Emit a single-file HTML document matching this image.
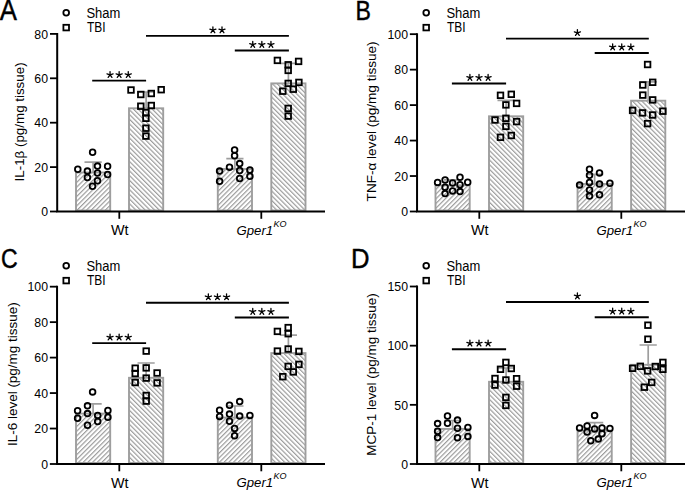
<!DOCTYPE html>
<html><head><meta charset="utf-8"><style>
html,body{margin:0;padding:0;background:#fff;}
svg{display:block;}
text{font-family:"Liberation Sans", sans-serif;fill:#000;}
</style></head><body>
<svg width="685" height="491" viewBox="0 0 685 491">
<defs>
<pattern id="hs" patternUnits="userSpaceOnUse" width="3.32" height="3.32" patternTransform="rotate(45)"><rect width="3.32" height="3.32" fill="#fff"/><line x1="0.6" y1="0" x2="0.6" y2="3.32" stroke="#999999" stroke-width="1.15"/></pattern>
<pattern id="ht" patternUnits="userSpaceOnUse" width="3.32" height="3.32" patternTransform="rotate(-45)"><rect width="3.32" height="3.32" fill="#fff"/><line x1="0.6" y1="0" x2="0.6" y2="3.32" stroke="#999999" stroke-width="1.15"/></pattern>
</defs>
<rect width="685" height="491" fill="#fff"/>
<path d="M50 211.5H57.2" stroke="#000" stroke-width="1.8"/><text x="48" y="216.2" font-size="13.1" text-anchor="end" textLength="6.84" lengthAdjust="spacingAndGlyphs">0</text><path d="M50 167.1H57.2" stroke="#000" stroke-width="1.8"/><text x="48" y="171.8" font-size="13.1" text-anchor="end" textLength="13.68" lengthAdjust="spacingAndGlyphs">20</text><path d="M50 122.7H57.2" stroke="#000" stroke-width="1.8"/><text x="48" y="127.4" font-size="13.1" text-anchor="end" textLength="13.68" lengthAdjust="spacingAndGlyphs">40</text><path d="M50 78.3H57.2" stroke="#000" stroke-width="1.8"/><text x="48" y="83" font-size="13.1" text-anchor="end" textLength="13.68" lengthAdjust="spacingAndGlyphs">60</text><path d="M50 33.9H57.2" stroke="#000" stroke-width="1.8"/><text x="48" y="38.6" font-size="13.1" text-anchor="end" textLength="13.68" lengthAdjust="spacingAndGlyphs">80</text><path d="M119.3 211.5V218.8" stroke="#000" stroke-width="1.8"/><path d="M261.3 211.5V218.8" stroke="#000" stroke-width="1.8"/><text x="119.7" y="235.2" font-size="14.2" text-anchor="middle" textLength="17.6" lengthAdjust="spacingAndGlyphs">Wt</text><text x="236.5" y="234.9" font-size="13.7" font-style="italic" textLength="36.6" lengthAdjust="spacingAndGlyphs">Gper1</text><text x="273.6" y="226.7" font-size="9.6" font-style="italic" textLength="13" lengthAdjust="spacingAndGlyphs">KO</text><rect x="76" y="172.5" width="34.2" height="38" fill="url(#hs)" stroke="#9e9e9e" stroke-width="1.9"/><path d="M93.1 172.5V162.2M84.5 162.2H101.7" stroke="#9e9e9e" stroke-width="1.7" fill="none"/><rect x="129" y="108.3" width="34.2" height="102.2" fill="url(#ht)" stroke="#9e9e9e" stroke-width="1.9"/><path d="M146.1 108.3V92M137.5 92H154.7" stroke="#9e9e9e" stroke-width="1.7" fill="none"/><rect x="217.8" y="169" width="34.2" height="41.5" fill="url(#hs)" stroke="#9e9e9e" stroke-width="1.9"/><path d="M234.9 169V158.6M226.3 158.6H243.5" stroke="#9e9e9e" stroke-width="1.7" fill="none"/><rect x="271.3" y="83.4" width="34.2" height="127.1" fill="url(#ht)" stroke="#9e9e9e" stroke-width="1.9"/><path d="M288.4 83.4V63.4M279.8 63.4H297" stroke="#9e9e9e" stroke-width="1.7" fill="none"/><path d="M57.2 32.9V211.5H325" stroke="#000" stroke-width="2" fill="none"/><circle cx="92.6" cy="152.3" r="2.85" fill="none" stroke="#000" stroke-width="1.8"/><circle cx="77.8" cy="169.3" r="2.85" fill="none" stroke="#000" stroke-width="1.8"/><circle cx="87.4" cy="171.1" r="2.85" fill="none" stroke="#000" stroke-width="1.8"/><circle cx="87.4" cy="177.5" r="2.85" fill="none" stroke="#000" stroke-width="1.8"/><circle cx="97.5" cy="166.1" r="2.85" fill="none" stroke="#000" stroke-width="1.8"/><circle cx="97.5" cy="173" r="2.85" fill="none" stroke="#000" stroke-width="1.8"/><circle cx="97.5" cy="180.7" r="2.85" fill="none" stroke="#000" stroke-width="1.8"/><circle cx="107.6" cy="166.3" r="2.85" fill="none" stroke="#000" stroke-width="1.8"/><circle cx="107.6" cy="174.5" r="2.85" fill="none" stroke="#000" stroke-width="1.8"/><circle cx="92.5" cy="186.2" r="2.85" fill="none" stroke="#000" stroke-width="1.8"/><rect x="128.2" y="87.2" width="5.6" height="5.6" fill="none" stroke="#000" stroke-width="1.8"/><rect x="138" y="91.7" width="5.6" height="5.6" fill="none" stroke="#000" stroke-width="1.8"/><rect x="148.5" y="90.7" width="5.6" height="5.6" fill="none" stroke="#000" stroke-width="1.8"/><rect x="158.4" y="86.9" width="5.6" height="5.6" fill="none" stroke="#000" stroke-width="1.8"/><rect x="138" y="103.4" width="5.6" height="5.6" fill="none" stroke="#000" stroke-width="1.8"/><rect x="148.5" y="102.7" width="5.6" height="5.6" fill="none" stroke="#000" stroke-width="1.8"/><rect x="143.1" y="109.8" width="5.6" height="5.6" fill="none" stroke="#000" stroke-width="1.8"/><rect x="143.1" y="115.5" width="5.6" height="5.6" fill="none" stroke="#000" stroke-width="1.8"/><rect x="143.1" y="125.4" width="5.6" height="5.6" fill="none" stroke="#000" stroke-width="1.8"/><rect x="143.1" y="133.3" width="5.6" height="5.6" fill="none" stroke="#000" stroke-width="1.8"/><circle cx="234.6" cy="149.9" r="2.85" fill="none" stroke="#000" stroke-width="1.8"/><circle cx="234.6" cy="155.8" r="2.85" fill="none" stroke="#000" stroke-width="1.8"/><circle cx="229.5" cy="167.3" r="2.85" fill="none" stroke="#000" stroke-width="1.8"/><circle cx="239.7" cy="163.6" r="2.85" fill="none" stroke="#000" stroke-width="1.8"/><circle cx="239.7" cy="170.5" r="2.85" fill="none" stroke="#000" stroke-width="1.8"/><circle cx="239.7" cy="178.5" r="2.85" fill="none" stroke="#000" stroke-width="1.8"/><circle cx="219.6" cy="171.1" r="2.85" fill="none" stroke="#000" stroke-width="1.8"/><circle cx="219.6" cy="181.2" r="2.85" fill="none" stroke="#000" stroke-width="1.8"/><circle cx="249.9" cy="170" r="2.85" fill="none" stroke="#000" stroke-width="1.8"/><circle cx="249.9" cy="176.2" r="2.85" fill="none" stroke="#000" stroke-width="1.8"/><rect x="274.6" y="57.6" width="5.6" height="5.6" fill="none" stroke="#000" stroke-width="1.8"/><rect x="295.8" y="58.6" width="5.6" height="5.6" fill="none" stroke="#000" stroke-width="1.8"/><rect x="285.4" y="62" width="5.6" height="5.6" fill="none" stroke="#000" stroke-width="1.8"/><rect x="285.4" y="67.6" width="5.6" height="5.6" fill="none" stroke="#000" stroke-width="1.8"/><rect x="285.4" y="80.6" width="5.6" height="5.6" fill="none" stroke="#000" stroke-width="1.8"/><rect x="296.1" y="79.6" width="5.6" height="5.6" fill="none" stroke="#000" stroke-width="1.8"/><rect x="280" y="88.4" width="5.6" height="5.6" fill="none" stroke="#000" stroke-width="1.8"/><rect x="290.5" y="86.4" width="5.6" height="5.6" fill="none" stroke="#000" stroke-width="1.8"/><rect x="285.4" y="105.6" width="5.6" height="5.6" fill="none" stroke="#000" stroke-width="1.8"/><rect x="285.4" y="113.3" width="5.6" height="5.6" fill="none" stroke="#000" stroke-width="1.8"/><path d="M92.2 80.6H146.1" stroke="#000" stroke-width="1.9"/><path d="M110.05 74.8L110.05 71.6M110.05 74.8L113.09 73.81M110.05 74.8L111.93 77.39M110.05 74.8L108.17 77.39M110.05 74.8L107.01 73.81" stroke="#000" stroke-width="1.3" stroke-linecap="round" fill="none"/><path d="M119.15 74.8L119.15 71.6M119.15 74.8L122.19 73.81M119.15 74.8L121.03 77.39M119.15 74.8L117.27 77.39M119.15 74.8L116.11 73.81" stroke="#000" stroke-width="1.3" stroke-linecap="round" fill="none"/><path d="M128.25 74.8L128.25 71.6M128.25 74.8L131.29 73.81M128.25 74.8L130.13 77.39M128.25 74.8L126.37 77.39M128.25 74.8L125.21 73.81" stroke="#000" stroke-width="1.3" stroke-linecap="round" fill="none"/><path d="M234.8 50.5H288.9" stroke="#000" stroke-width="1.9"/><path d="M252.75 44.7L252.75 41.5M252.75 44.7L255.79 43.71M252.75 44.7L254.63 47.29M252.75 44.7L250.87 47.29M252.75 44.7L249.71 43.71" stroke="#000" stroke-width="1.3" stroke-linecap="round" fill="none"/><path d="M261.85 44.7L261.85 41.5M261.85 44.7L264.89 43.71M261.85 44.7L263.73 47.29M261.85 44.7L259.97 47.29M261.85 44.7L258.81 43.71" stroke="#000" stroke-width="1.3" stroke-linecap="round" fill="none"/><path d="M270.95 44.7L270.95 41.5M270.95 44.7L273.99 43.71M270.95 44.7L272.83 47.29M270.95 44.7L269.07 47.29M270.95 44.7L267.91 43.71" stroke="#000" stroke-width="1.3" stroke-linecap="round" fill="none"/><path d="M146 35.9H288.9" stroke="#000" stroke-width="1.9"/><path d="M212.9 30.1L212.9 26.9M212.9 30.1L215.94 29.11M212.9 30.1L214.78 32.69M212.9 30.1L211.02 32.69M212.9 30.1L209.86 29.11" stroke="#000" stroke-width="1.3" stroke-linecap="round" fill="none"/><path d="M222 30.1L222 26.9M222 30.1L225.04 29.11M222 30.1L223.88 32.69M222 30.1L220.12 32.69M222 30.1L218.96 29.11" stroke="#000" stroke-width="1.3" stroke-linecap="round" fill="none"/><circle cx="66.2" cy="12.8" r="2.85" fill="none" stroke="#000" stroke-width="1.8"/><rect x="63.4" y="24.8" width="5.6" height="5.6" fill="none" stroke="#000" stroke-width="1.8"/><text x="86.4" y="17.9" font-size="14" text-anchor="start" textLength="33.9" lengthAdjust="spacingAndGlyphs">Sham</text><text x="86.9" y="32.2" font-size="13.8" text-anchor="start" textLength="18.6" lengthAdjust="spacingAndGlyphs">TBI</text><text transform="translate(-0.3 19.6) scale(0.9 1)" font-size="28.6" stroke="#000" stroke-width="0.45">A</text><text transform="translate(23.8 121.9) rotate(-90)" x="0" y="0" font-size="13.3" text-anchor="middle" textLength="119" lengthAdjust="spacingAndGlyphs">IL-1β (pg/mg tissue)</text><path d="M409.85 211.5H417.05" stroke="#000" stroke-width="1.8"/><text x="408" y="216.2" font-size="13.1" text-anchor="end" textLength="6.84" lengthAdjust="spacingAndGlyphs">0</text><path d="M409.85 176.03H417.05" stroke="#000" stroke-width="1.8"/><text x="408" y="180.73" font-size="13.1" text-anchor="end" textLength="13.68" lengthAdjust="spacingAndGlyphs">20</text><path d="M409.85 140.57H417.05" stroke="#000" stroke-width="1.8"/><text x="408" y="145.27" font-size="13.1" text-anchor="end" textLength="13.68" lengthAdjust="spacingAndGlyphs">40</text><path d="M409.85 105.1H417.05" stroke="#000" stroke-width="1.8"/><text x="408" y="109.8" font-size="13.1" text-anchor="end" textLength="13.68" lengthAdjust="spacingAndGlyphs">60</text><path d="M409.85 69.64H417.05" stroke="#000" stroke-width="1.8"/><text x="408" y="74.34" font-size="13.1" text-anchor="end" textLength="13.68" lengthAdjust="spacingAndGlyphs">80</text><path d="M409.85 34.17H417.05" stroke="#000" stroke-width="1.8"/><text x="408" y="38.87" font-size="13.1" text-anchor="end" textLength="20.52" lengthAdjust="spacingAndGlyphs">100</text><path d="M479.3 211.5V218.8" stroke="#000" stroke-width="1.8"/><path d="M621.3 211.5V218.8" stroke="#000" stroke-width="1.8"/><text x="479.7" y="235.2" font-size="14.2" text-anchor="middle" textLength="17.6" lengthAdjust="spacingAndGlyphs">Wt</text><text x="596.5" y="234.9" font-size="13.7" font-style="italic" textLength="36.6" lengthAdjust="spacingAndGlyphs">Gper1</text><text x="633.6" y="226.7" font-size="9.6" font-style="italic" textLength="13" lengthAdjust="spacingAndGlyphs">KO</text><rect x="435.5" y="185.3" width="34.2" height="25.2" fill="url(#hs)" stroke="#9e9e9e" stroke-width="1.9"/><path d="M452.6 185.3V179.9M444 179.9H461.2" stroke="#9e9e9e" stroke-width="1.7" fill="none"/><rect x="489" y="116.3" width="34.2" height="94.2" fill="url(#ht)" stroke="#9e9e9e" stroke-width="1.9"/><path d="M506.1 116.3V100.4M497.5 100.4H514.7" stroke="#9e9e9e" stroke-width="1.7" fill="none"/><rect x="577.55" y="184" width="34.2" height="26.5" fill="url(#hs)" stroke="#9e9e9e" stroke-width="1.9"/><path d="M594.65 184V174.3M586.05 174.3H603.25" stroke="#9e9e9e" stroke-width="1.7" fill="none"/><rect x="631.1" y="100.7" width="34.2" height="109.8" fill="url(#ht)" stroke="#9e9e9e" stroke-width="1.9"/><path d="M648.2 100.7V81.8M639.6 81.8H656.8" stroke="#9e9e9e" stroke-width="1.7" fill="none"/><path d="M417.05 33.17V211.5H685" stroke="#000" stroke-width="2" fill="none"/><circle cx="437.6" cy="182.4" r="2.85" fill="none" stroke="#000" stroke-width="1.8"/><circle cx="445.1" cy="179.9" r="2.85" fill="none" stroke="#000" stroke-width="1.8"/><circle cx="445.1" cy="187.3" r="2.85" fill="none" stroke="#000" stroke-width="1.8"/><circle cx="445.1" cy="193.6" r="2.85" fill="none" stroke="#000" stroke-width="1.8"/><circle cx="452.6" cy="183" r="2.85" fill="none" stroke="#000" stroke-width="1.8"/><circle cx="452.6" cy="190.9" r="2.85" fill="none" stroke="#000" stroke-width="1.8"/><circle cx="460" cy="177.3" r="2.85" fill="none" stroke="#000" stroke-width="1.8"/><circle cx="460" cy="184.8" r="2.85" fill="none" stroke="#000" stroke-width="1.8"/><circle cx="460" cy="191.6" r="2.85" fill="none" stroke="#000" stroke-width="1.8"/><circle cx="467.7" cy="182.2" r="2.85" fill="none" stroke="#000" stroke-width="1.8"/><rect x="497.7" y="92.5" width="5.6" height="5.6" fill="none" stroke="#000" stroke-width="1.8"/><rect x="508.5" y="91.5" width="5.6" height="5.6" fill="none" stroke="#000" stroke-width="1.8"/><rect x="503.1" y="102.1" width="5.6" height="5.6" fill="none" stroke="#000" stroke-width="1.8"/><rect x="513.8" y="100.6" width="5.6" height="5.6" fill="none" stroke="#000" stroke-width="1.8"/><rect x="492.2" y="117.2" width="5.6" height="5.6" fill="none" stroke="#000" stroke-width="1.8"/><rect x="503.1" y="115.5" width="5.6" height="5.6" fill="none" stroke="#000" stroke-width="1.8"/><rect x="513.8" y="118.8" width="5.6" height="5.6" fill="none" stroke="#000" stroke-width="1.8"/><rect x="503.1" y="123.6" width="5.6" height="5.6" fill="none" stroke="#000" stroke-width="1.8"/><rect x="497.7" y="134.5" width="5.6" height="5.6" fill="none" stroke="#000" stroke-width="1.8"/><rect x="508.5" y="132.7" width="5.6" height="5.6" fill="none" stroke="#000" stroke-width="1.8"/><circle cx="589.5" cy="169.3" r="2.85" fill="none" stroke="#000" stroke-width="1.8"/><circle cx="589.5" cy="175.2" r="2.85" fill="none" stroke="#000" stroke-width="1.8"/><circle cx="589.5" cy="182.5" r="2.85" fill="none" stroke="#000" stroke-width="1.8"/><circle cx="589.5" cy="190" r="2.85" fill="none" stroke="#000" stroke-width="1.8"/><circle cx="589.5" cy="196.1" r="2.85" fill="none" stroke="#000" stroke-width="1.8"/><circle cx="599.5" cy="172.9" r="2.85" fill="none" stroke="#000" stroke-width="1.8"/><circle cx="599.5" cy="184.1" r="2.85" fill="none" stroke="#000" stroke-width="1.8"/><circle cx="599.5" cy="194.7" r="2.85" fill="none" stroke="#000" stroke-width="1.8"/><circle cx="579.6" cy="184.9" r="2.85" fill="none" stroke="#000" stroke-width="1.8"/><circle cx="609.9" cy="183.3" r="2.85" fill="none" stroke="#000" stroke-width="1.8"/><rect x="644.8" y="61.7" width="5.6" height="5.6" fill="none" stroke="#000" stroke-width="1.8"/><rect x="640" y="82.2" width="5.6" height="5.6" fill="none" stroke="#000" stroke-width="1.8"/><rect x="649.9" y="79.5" width="5.6" height="5.6" fill="none" stroke="#000" stroke-width="1.8"/><rect x="640" y="92.3" width="5.6" height="5.6" fill="none" stroke="#000" stroke-width="1.8"/><rect x="649.9" y="97.1" width="5.6" height="5.6" fill="none" stroke="#000" stroke-width="1.8"/><rect x="629.8" y="107.6" width="5.6" height="5.6" fill="none" stroke="#000" stroke-width="1.8"/><rect x="639.7" y="110.1" width="5.6" height="5.6" fill="none" stroke="#000" stroke-width="1.8"/><rect x="649.9" y="112.2" width="5.6" height="5.6" fill="none" stroke="#000" stroke-width="1.8"/><rect x="660.1" y="108.4" width="5.6" height="5.6" fill="none" stroke="#000" stroke-width="1.8"/><rect x="644.8" y="120.8" width="5.6" height="5.6" fill="none" stroke="#000" stroke-width="1.8"/><path d="M451.9 83.5H506.1" stroke="#000" stroke-width="1.9"/><path d="M469.9 77.7L469.9 74.5M469.9 77.7L472.94 76.71M469.9 77.7L471.78 80.29M469.9 77.7L468.02 80.29M469.9 77.7L466.86 76.71" stroke="#000" stroke-width="1.3" stroke-linecap="round" fill="none"/><path d="M479 77.7L479 74.5M479 77.7L482.04 76.71M479 77.7L480.88 80.29M479 77.7L477.12 80.29M479 77.7L475.96 76.71" stroke="#000" stroke-width="1.3" stroke-linecap="round" fill="none"/><path d="M488.1 77.7L488.1 74.5M488.1 77.7L491.14 76.71M488.1 77.7L489.98 80.29M488.1 77.7L486.22 80.29M488.1 77.7L485.06 76.71" stroke="#000" stroke-width="1.3" stroke-linecap="round" fill="none"/><path d="M594.7 53H648.8" stroke="#000" stroke-width="1.9"/><path d="M612.65 47.2L612.65 44M612.65 47.2L615.69 46.21M612.65 47.2L614.53 49.79M612.65 47.2L610.77 49.79M612.65 47.2L609.61 46.21" stroke="#000" stroke-width="1.3" stroke-linecap="round" fill="none"/><path d="M621.75 47.2L621.75 44M621.75 47.2L624.79 46.21M621.75 47.2L623.63 49.79M621.75 47.2L619.87 49.79M621.75 47.2L618.71 46.21" stroke="#000" stroke-width="1.3" stroke-linecap="round" fill="none"/><path d="M630.85 47.2L630.85 44M630.85 47.2L633.89 46.21M630.85 47.2L632.73 49.79M630.85 47.2L628.97 49.79M630.85 47.2L627.81 46.21" stroke="#000" stroke-width="1.3" stroke-linecap="round" fill="none"/><path d="M506 38.6H648.8" stroke="#000" stroke-width="1.9"/><path d="M577.4 32.8L577.4 29.6M577.4 32.8L580.44 31.81M577.4 32.8L579.28 35.39M577.4 32.8L575.52 35.39M577.4 32.8L574.36 31.81" stroke="#000" stroke-width="1.3" stroke-linecap="round" fill="none"/><circle cx="426.2" cy="12.8" r="2.85" fill="none" stroke="#000" stroke-width="1.8"/><rect x="423.4" y="24.8" width="5.6" height="5.6" fill="none" stroke="#000" stroke-width="1.8"/><text x="446.4" y="17.9" font-size="14" text-anchor="start" textLength="33.9" lengthAdjust="spacingAndGlyphs">Sham</text><text x="446.9" y="32.2" font-size="13.8" text-anchor="start" textLength="18.6" lengthAdjust="spacingAndGlyphs">TBI</text><text transform="translate(355.4 19.6) scale(0.82 1)" font-size="28.2" stroke="#000" stroke-width="0.45">B</text><text transform="translate(376.3 121.4) rotate(-90)" x="0" y="0" font-size="13.3" text-anchor="middle" textLength="160" lengthAdjust="spacingAndGlyphs">TNF-α level (pg/mg tissue)</text><path d="M49.85 464H57.05" stroke="#000" stroke-width="1.8"/><text x="48" y="468.7" font-size="13.1" text-anchor="end" textLength="6.84" lengthAdjust="spacingAndGlyphs">0</text><path d="M49.85 428.53H57.05" stroke="#000" stroke-width="1.8"/><text x="48" y="433.23" font-size="13.1" text-anchor="end" textLength="13.68" lengthAdjust="spacingAndGlyphs">20</text><path d="M49.85 393.07H57.05" stroke="#000" stroke-width="1.8"/><text x="48" y="397.77" font-size="13.1" text-anchor="end" textLength="13.68" lengthAdjust="spacingAndGlyphs">40</text><path d="M49.85 357.6H57.05" stroke="#000" stroke-width="1.8"/><text x="48" y="362.3" font-size="13.1" text-anchor="end" textLength="13.68" lengthAdjust="spacingAndGlyphs">60</text><path d="M49.85 322.14H57.05" stroke="#000" stroke-width="1.8"/><text x="48" y="326.84" font-size="13.1" text-anchor="end" textLength="13.68" lengthAdjust="spacingAndGlyphs">80</text><path d="M49.85 286.67H57.05" stroke="#000" stroke-width="1.8"/><text x="48" y="291.37" font-size="13.1" text-anchor="end" textLength="20.52" lengthAdjust="spacingAndGlyphs">100</text><path d="M119.3 464V471.3" stroke="#000" stroke-width="1.8"/><path d="M261.3 464V471.3" stroke="#000" stroke-width="1.8"/><text x="119.7" y="487.7" font-size="14.2" text-anchor="middle" textLength="17.6" lengthAdjust="spacingAndGlyphs">Wt</text><text x="236.5" y="487.4" font-size="13.7" font-style="italic" textLength="36.6" lengthAdjust="spacingAndGlyphs">Gper1</text><text x="273.6" y="479.2" font-size="9.6" font-style="italic" textLength="13" lengthAdjust="spacingAndGlyphs">KO</text><rect x="76" y="413.6" width="34.2" height="49.4" fill="url(#hs)" stroke="#9e9e9e" stroke-width="1.9"/><path d="M93.1 413.6V403.9M84.5 403.9H101.7" stroke="#9e9e9e" stroke-width="1.7" fill="none"/><rect x="129" y="377.8" width="34.2" height="85.2" fill="url(#ht)" stroke="#9e9e9e" stroke-width="1.9"/><path d="M146.1 377.8V363M137.5 363H154.7" stroke="#9e9e9e" stroke-width="1.7" fill="none"/><rect x="217.8" y="417.6" width="34.2" height="45.4" fill="url(#hs)" stroke="#9e9e9e" stroke-width="1.9"/><path d="M234.9 417.6V406M226.3 406H243.5" stroke="#9e9e9e" stroke-width="1.7" fill="none"/><rect x="271.3" y="353.1" width="34.2" height="109.9" fill="url(#ht)" stroke="#9e9e9e" stroke-width="1.9"/><path d="M288.4 353.1V335.1M279.8 335.1H297" stroke="#9e9e9e" stroke-width="1.7" fill="none"/><path d="M57.05 285.67V464H325" stroke="#000" stroke-width="2" fill="none"/><circle cx="92.6" cy="391.9" r="2.85" fill="none" stroke="#000" stroke-width="1.8"/><circle cx="87.5" cy="405.8" r="2.85" fill="none" stroke="#000" stroke-width="1.8"/><circle cx="87.5" cy="413.6" r="2.85" fill="none" stroke="#000" stroke-width="1.8"/><circle cx="87.5" cy="425.3" r="2.85" fill="none" stroke="#000" stroke-width="1.8"/><circle cx="77.6" cy="410.8" r="2.85" fill="none" stroke="#000" stroke-width="1.8"/><circle cx="77.6" cy="418.2" r="2.85" fill="none" stroke="#000" stroke-width="1.8"/><circle cx="97.7" cy="415.4" r="2.85" fill="none" stroke="#000" stroke-width="1.8"/><circle cx="97.7" cy="421.5" r="2.85" fill="none" stroke="#000" stroke-width="1.8"/><circle cx="107.9" cy="410.5" r="2.85" fill="none" stroke="#000" stroke-width="1.8"/><circle cx="107.9" cy="417.2" r="2.85" fill="none" stroke="#000" stroke-width="1.8"/><rect x="143.4" y="348.3" width="5.6" height="5.6" fill="none" stroke="#000" stroke-width="1.8"/><rect x="132.4" y="365.4" width="5.6" height="5.6" fill="none" stroke="#000" stroke-width="1.8"/><rect x="132.4" y="370.7" width="5.6" height="5.6" fill="none" stroke="#000" stroke-width="1.8"/><rect x="143.4" y="365.1" width="5.6" height="5.6" fill="none" stroke="#000" stroke-width="1.8"/><rect x="143.4" y="375.3" width="5.6" height="5.6" fill="none" stroke="#000" stroke-width="1.8"/><rect x="154.3" y="370.2" width="5.6" height="5.6" fill="none" stroke="#000" stroke-width="1.8"/><rect x="132.4" y="379.7" width="5.6" height="5.6" fill="none" stroke="#000" stroke-width="1.8"/><rect x="154.3" y="380.1" width="5.6" height="5.6" fill="none" stroke="#000" stroke-width="1.8"/><rect x="143.4" y="392.7" width="5.6" height="5.6" fill="none" stroke="#000" stroke-width="1.8"/><rect x="143.4" y="398.3" width="5.6" height="5.6" fill="none" stroke="#000" stroke-width="1.8"/><circle cx="239.7" cy="401.6" r="2.85" fill="none" stroke="#000" stroke-width="1.8"/><circle cx="229.5" cy="405.2" r="2.85" fill="none" stroke="#000" stroke-width="1.8"/><circle cx="219.6" cy="410.3" r="2.85" fill="none" stroke="#000" stroke-width="1.8"/><circle cx="219.6" cy="416.4" r="2.85" fill="none" stroke="#000" stroke-width="1.8"/><circle cx="229.5" cy="414.1" r="2.85" fill="none" stroke="#000" stroke-width="1.8"/><circle cx="229.5" cy="421.3" r="2.85" fill="none" stroke="#000" stroke-width="1.8"/><circle cx="239.7" cy="416.1" r="2.85" fill="none" stroke="#000" stroke-width="1.8"/><circle cx="249.9" cy="415.4" r="2.85" fill="none" stroke="#000" stroke-width="1.8"/><circle cx="234.6" cy="428.4" r="2.85" fill="none" stroke="#000" stroke-width="1.8"/><circle cx="234.6" cy="435.7" r="2.85" fill="none" stroke="#000" stroke-width="1.8"/><rect x="285.4" y="324.8" width="5.6" height="5.6" fill="none" stroke="#000" stroke-width="1.8"/><rect x="285.4" y="330.9" width="5.6" height="5.6" fill="none" stroke="#000" stroke-width="1.8"/><rect x="274.6" y="328.6" width="5.6" height="5.6" fill="none" stroke="#000" stroke-width="1.8"/><rect x="285.4" y="346.2" width="5.6" height="5.6" fill="none" stroke="#000" stroke-width="1.8"/><rect x="274.6" y="348.3" width="5.6" height="5.6" fill="none" stroke="#000" stroke-width="1.8"/><rect x="296.1" y="348.6" width="5.6" height="5.6" fill="none" stroke="#000" stroke-width="1.8"/><rect x="296.1" y="361.6" width="5.6" height="5.6" fill="none" stroke="#000" stroke-width="1.8"/><rect x="285.4" y="363.6" width="5.6" height="5.6" fill="none" stroke="#000" stroke-width="1.8"/><rect x="290.5" y="369.1" width="5.6" height="5.6" fill="none" stroke="#000" stroke-width="1.8"/><rect x="280" y="373.9" width="5.6" height="5.6" fill="none" stroke="#000" stroke-width="1.8"/><path d="M92.2 343.1H146.1" stroke="#000" stroke-width="1.9"/><path d="M110.05 337.3L110.05 334.1M110.05 337.3L113.09 336.31M110.05 337.3L111.93 339.89M110.05 337.3L108.17 339.89M110.05 337.3L107.01 336.31" stroke="#000" stroke-width="1.3" stroke-linecap="round" fill="none"/><path d="M119.15 337.3L119.15 334.1M119.15 337.3L122.19 336.31M119.15 337.3L121.03 339.89M119.15 337.3L117.27 339.89M119.15 337.3L116.11 336.31" stroke="#000" stroke-width="1.3" stroke-linecap="round" fill="none"/><path d="M128.25 337.3L128.25 334.1M128.25 337.3L131.29 336.31M128.25 337.3L130.13 339.89M128.25 337.3L126.37 339.89M128.25 337.3L125.21 336.31" stroke="#000" stroke-width="1.3" stroke-linecap="round" fill="none"/><path d="M234.8 317.5H288.9" stroke="#000" stroke-width="1.9"/><path d="M252.75 311.7L252.75 308.5M252.75 311.7L255.79 310.71M252.75 311.7L254.63 314.29M252.75 311.7L250.87 314.29M252.75 311.7L249.71 310.71" stroke="#000" stroke-width="1.3" stroke-linecap="round" fill="none"/><path d="M261.85 311.7L261.85 308.5M261.85 311.7L264.89 310.71M261.85 311.7L263.73 314.29M261.85 311.7L259.97 314.29M261.85 311.7L258.81 310.71" stroke="#000" stroke-width="1.3" stroke-linecap="round" fill="none"/><path d="M270.95 311.7L270.95 308.5M270.95 311.7L273.99 310.71M270.95 311.7L272.83 314.29M270.95 311.7L269.07 314.29M270.95 311.7L267.91 310.71" stroke="#000" stroke-width="1.3" stroke-linecap="round" fill="none"/><path d="M146 302.8H288.9" stroke="#000" stroke-width="1.9"/><path d="M208.35 297L208.35 293.8M208.35 297L211.39 296.01M208.35 297L210.23 299.59M208.35 297L206.47 299.59M208.35 297L205.31 296.01" stroke="#000" stroke-width="1.3" stroke-linecap="round" fill="none"/><path d="M217.45 297L217.45 293.8M217.45 297L220.49 296.01M217.45 297L219.33 299.59M217.45 297L215.57 299.59M217.45 297L214.41 296.01" stroke="#000" stroke-width="1.3" stroke-linecap="round" fill="none"/><path d="M226.55 297L226.55 293.8M226.55 297L229.59 296.01M226.55 297L228.43 299.59M226.55 297L224.67 299.59M226.55 297L223.51 296.01" stroke="#000" stroke-width="1.3" stroke-linecap="round" fill="none"/><circle cx="66.2" cy="265.8" r="2.85" fill="none" stroke="#000" stroke-width="1.8"/><rect x="63.4" y="277.8" width="5.6" height="5.6" fill="none" stroke="#000" stroke-width="1.8"/><text x="86.4" y="270.9" font-size="14" text-anchor="start" textLength="33.9" lengthAdjust="spacingAndGlyphs">Sham</text><text x="86.9" y="285.2" font-size="13.8" text-anchor="start" textLength="18.6" lengthAdjust="spacingAndGlyphs">TBI</text><text transform="translate(1 268.2) scale(0.82 1)" font-size="28.2" stroke="#000" stroke-width="0.45">C</text><text transform="translate(16.8 374.15) rotate(-90)" x="0" y="0" font-size="13.3" text-anchor="middle" textLength="143.8" lengthAdjust="spacingAndGlyphs">IL-6 level (pg/mg tissue)</text><path d="M409.85 464H417.05" stroke="#000" stroke-width="1.8"/><text x="408" y="468.7" font-size="13.1" text-anchor="end" textLength="6.84" lengthAdjust="spacingAndGlyphs">0</text><path d="M409.85 404.83H417.05" stroke="#000" stroke-width="1.8"/><text x="408" y="409.53" font-size="13.1" text-anchor="end" textLength="13.68" lengthAdjust="spacingAndGlyphs">50</text><path d="M409.85 345.67H417.05" stroke="#000" stroke-width="1.8"/><text x="408" y="350.37" font-size="13.1" text-anchor="end" textLength="20.52" lengthAdjust="spacingAndGlyphs">100</text><path d="M409.85 286.5H417.05" stroke="#000" stroke-width="1.8"/><text x="408" y="291.2" font-size="13.1" text-anchor="end" textLength="20.52" lengthAdjust="spacingAndGlyphs">150</text><path d="M479.3 464V471.3" stroke="#000" stroke-width="1.8"/><path d="M621.3 464V471.3" stroke="#000" stroke-width="1.8"/><text x="479.7" y="487.7" font-size="14.2" text-anchor="middle" textLength="17.6" lengthAdjust="spacingAndGlyphs">Wt</text><text x="596.5" y="487.4" font-size="13.7" font-style="italic" textLength="36.6" lengthAdjust="spacingAndGlyphs">Gper1</text><text x="633.6" y="479.2" font-size="9.6" font-style="italic" textLength="13" lengthAdjust="spacingAndGlyphs">KO</text><rect x="435.5" y="428.9" width="34.2" height="34.1" fill="url(#hs)" stroke="#9e9e9e" stroke-width="1.9"/><path d="M452.6 428.9V420.5M444 420.5H461.2" stroke="#9e9e9e" stroke-width="1.7" fill="none"/><rect x="489" y="381.8" width="34.2" height="81.2" fill="url(#ht)" stroke="#9e9e9e" stroke-width="1.9"/><path d="M506.1 381.8V368M497.5 368H514.7" stroke="#9e9e9e" stroke-width="1.7" fill="none"/><rect x="577.55" y="430.6" width="34.2" height="32.4" fill="url(#hs)" stroke="#9e9e9e" stroke-width="1.9"/><path d="M594.65 430.6V422.7M586.05 422.7H603.25" stroke="#9e9e9e" stroke-width="1.7" fill="none"/><rect x="631.1" y="364.8" width="34.2" height="98.2" fill="url(#ht)" stroke="#9e9e9e" stroke-width="1.9"/><path d="M648.2 364.8V345M639.6 345H656.8" stroke="#9e9e9e" stroke-width="1.7" fill="none"/><path d="M417.05 285.5V464H685" stroke="#000" stroke-width="2" fill="none"/><circle cx="447.5" cy="416" r="2.85" fill="none" stroke="#000" stroke-width="1.8"/><circle cx="447.5" cy="423.3" r="2.85" fill="none" stroke="#000" stroke-width="1.8"/><circle cx="437.6" cy="423.6" r="2.85" fill="none" stroke="#000" stroke-width="1.8"/><circle cx="437.6" cy="431.3" r="2.85" fill="none" stroke="#000" stroke-width="1.8"/><circle cx="437.6" cy="437.6" r="2.85" fill="none" stroke="#000" stroke-width="1.8"/><circle cx="457.5" cy="420.1" r="2.85" fill="none" stroke="#000" stroke-width="1.8"/><circle cx="457.5" cy="428.2" r="2.85" fill="none" stroke="#000" stroke-width="1.8"/><circle cx="457.5" cy="437.8" r="2.85" fill="none" stroke="#000" stroke-width="1.8"/><circle cx="467.9" cy="427.4" r="2.85" fill="none" stroke="#000" stroke-width="1.8"/><circle cx="467.9" cy="436.4" r="2.85" fill="none" stroke="#000" stroke-width="1.8"/><rect x="503.1" y="359.6" width="5.6" height="5.6" fill="none" stroke="#000" stroke-width="1.8"/><rect x="497.7" y="366.5" width="5.6" height="5.6" fill="none" stroke="#000" stroke-width="1.8"/><rect x="508.5" y="365.7" width="5.6" height="5.6" fill="none" stroke="#000" stroke-width="1.8"/><rect x="492.2" y="375.7" width="5.6" height="5.6" fill="none" stroke="#000" stroke-width="1.8"/><rect x="492.2" y="382.3" width="5.6" height="5.6" fill="none" stroke="#000" stroke-width="1.8"/><rect x="503.1" y="377.2" width="5.6" height="5.6" fill="none" stroke="#000" stroke-width="1.8"/><rect x="513.8" y="375.9" width="5.6" height="5.6" fill="none" stroke="#000" stroke-width="1.8"/><rect x="513.8" y="383.4" width="5.6" height="5.6" fill="none" stroke="#000" stroke-width="1.8"/><rect x="503.1" y="394.6" width="5.6" height="5.6" fill="none" stroke="#000" stroke-width="1.8"/><rect x="503.1" y="402.6" width="5.6" height="5.6" fill="none" stroke="#000" stroke-width="1.8"/><circle cx="594.6" cy="415.4" r="2.85" fill="none" stroke="#000" stroke-width="1.8"/><circle cx="579.6" cy="427.9" r="2.85" fill="none" stroke="#000" stroke-width="1.8"/><circle cx="587.1" cy="425.9" r="2.85" fill="none" stroke="#000" stroke-width="1.8"/><circle cx="587.1" cy="432" r="2.85" fill="none" stroke="#000" stroke-width="1.8"/><circle cx="594.6" cy="428.9" r="2.85" fill="none" stroke="#000" stroke-width="1.8"/><circle cx="602" cy="427.9" r="2.85" fill="none" stroke="#000" stroke-width="1.8"/><circle cx="602" cy="433.7" r="2.85" fill="none" stroke="#000" stroke-width="1.8"/><circle cx="609.9" cy="428.4" r="2.85" fill="none" stroke="#000" stroke-width="1.8"/><circle cx="590.8" cy="440.8" r="2.85" fill="none" stroke="#000" stroke-width="1.8"/><circle cx="598.3" cy="439.1" r="2.85" fill="none" stroke="#000" stroke-width="1.8"/><rect x="645.1" y="322.4" width="5.6" height="5.6" fill="none" stroke="#000" stroke-width="1.8"/><rect x="645.1" y="336.4" width="5.6" height="5.6" fill="none" stroke="#000" stroke-width="1.8"/><rect x="660.1" y="359.6" width="5.6" height="5.6" fill="none" stroke="#000" stroke-width="1.8"/><rect x="660.1" y="366.5" width="5.6" height="5.6" fill="none" stroke="#000" stroke-width="1.8"/><rect x="629.8" y="365.5" width="5.6" height="5.6" fill="none" stroke="#000" stroke-width="1.8"/><rect x="637.5" y="363.5" width="5.6" height="5.6" fill="none" stroke="#000" stroke-width="1.8"/><rect x="644.8" y="368.1" width="5.6" height="5.6" fill="none" stroke="#000" stroke-width="1.8"/><rect x="652.5" y="363.7" width="5.6" height="5.6" fill="none" stroke="#000" stroke-width="1.8"/><rect x="648.9" y="379.6" width="5.6" height="5.6" fill="none" stroke="#000" stroke-width="1.8"/><rect x="641.5" y="384.4" width="5.6" height="5.6" fill="none" stroke="#000" stroke-width="1.8"/><path d="M451.9 349.2H506.1" stroke="#000" stroke-width="1.9"/><path d="M469.9 343.4L469.9 340.2M469.9 343.4L472.94 342.41M469.9 343.4L471.78 345.99M469.9 343.4L468.02 345.99M469.9 343.4L466.86 342.41" stroke="#000" stroke-width="1.3" stroke-linecap="round" fill="none"/><path d="M479 343.4L479 340.2M479 343.4L482.04 342.41M479 343.4L480.88 345.99M479 343.4L477.12 345.99M479 343.4L475.96 342.41" stroke="#000" stroke-width="1.3" stroke-linecap="round" fill="none"/><path d="M488.1 343.4L488.1 340.2M488.1 343.4L491.14 342.41M488.1 343.4L489.98 345.99M488.1 343.4L486.22 345.99M488.1 343.4L485.06 342.41" stroke="#000" stroke-width="1.3" stroke-linecap="round" fill="none"/><path d="M594.7 317.2H648.8" stroke="#000" stroke-width="1.9"/><path d="M612.65 311.4L612.65 308.2M612.65 311.4L615.69 310.41M612.65 311.4L614.53 313.99M612.65 311.4L610.77 313.99M612.65 311.4L609.61 310.41" stroke="#000" stroke-width="1.3" stroke-linecap="round" fill="none"/><path d="M621.75 311.4L621.75 308.2M621.75 311.4L624.79 310.41M621.75 311.4L623.63 313.99M621.75 311.4L619.87 313.99M621.75 311.4L618.71 310.41" stroke="#000" stroke-width="1.3" stroke-linecap="round" fill="none"/><path d="M630.85 311.4L630.85 308.2M630.85 311.4L633.89 310.41M630.85 311.4L632.73 313.99M630.85 311.4L628.97 313.99M630.85 311.4L627.81 310.41" stroke="#000" stroke-width="1.3" stroke-linecap="round" fill="none"/><path d="M506 302H648.8" stroke="#000" stroke-width="1.9"/><path d="M577.4 296.2L577.4 293M577.4 296.2L580.44 295.21M577.4 296.2L579.28 298.79M577.4 296.2L575.52 298.79M577.4 296.2L574.36 295.21" stroke="#000" stroke-width="1.3" stroke-linecap="round" fill="none"/><circle cx="426.2" cy="265.8" r="2.85" fill="none" stroke="#000" stroke-width="1.8"/><rect x="423.4" y="277.8" width="5.6" height="5.6" fill="none" stroke="#000" stroke-width="1.8"/><text x="446.4" y="270.9" font-size="14" text-anchor="start" textLength="33.9" lengthAdjust="spacingAndGlyphs">Sham</text><text x="446.9" y="285.2" font-size="13.8" text-anchor="start" textLength="18.6" lengthAdjust="spacingAndGlyphs">TBI</text><text transform="translate(351 268.2) scale(0.91 1)" font-size="28.2" stroke="#000" stroke-width="0.45">D</text><text transform="translate(376.3 374.55) rotate(-90)" x="0" y="0" font-size="13.3" text-anchor="middle" textLength="162.4" lengthAdjust="spacingAndGlyphs">MCP-1 level (pg/mg tissue)</text>
</svg>
</body></html>
